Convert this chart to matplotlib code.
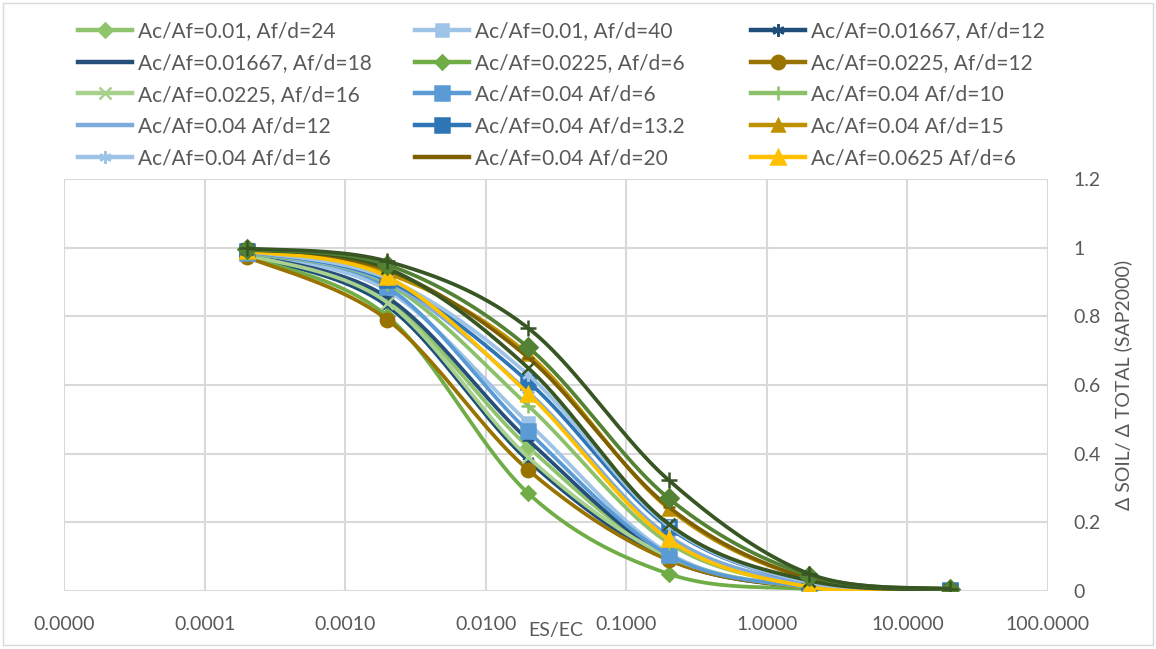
import numpy as np
import matplotlib
matplotlib.use("Agg")
import matplotlib.pyplot as plt
from matplotlib.patches import Rectangle

plt.rcParams['font.family'] = ['Lato', 'DejaVu Sans']

# ES/EC values of the six analysis points
es_ec = [0.0002, 0.002, 0.02, 0.2, 2, 20]

# delta soil / delta total for every case
s_001_24 = [0.980, 0.845, 0.420, 0.100, 0.011, 0.001]
s_001_40 = [0.982, 0.875, 0.490, 0.110, 0.012, 0.001]
s_0167_12 = [0.978, 0.830, 0.380, 0.092, 0.010, 0.001]
s_0167_18 = [0.980, 0.855, 0.440, 0.100, 0.011, 0.001]
s_0225_6 = [0.975, 0.800, 0.285, 0.050, 0.006, 0.001]
s_0225_12 = [0.973, 0.790, 0.353, 0.090, 0.010, 0.001]
s_0225_16 = [0.980, 0.840, 0.390, 0.100, 0.011, 0.001]
s_04_6 = [0.985, 0.885, 0.465, 0.105, 0.012, 0.001]
s_04_10 = [0.985, 0.895, 0.540, 0.140, 0.016, 0.002]
s_04_12 = [0.988, 0.900, 0.580, 0.160, 0.020, 0.002]
s_04_132 = [0.990, 0.905, 0.610, 0.185, 0.025, 0.002]
s_04_15 = [0.992, 0.925, 0.690, 0.240, 0.035, 0.003]
s_04_16 = [0.990, 0.910, 0.630, 0.190, 0.025, 0.002]
s_04_20 = [0.993, 0.935, 0.680, 0.245, 0.036, 0.003]
s_0625_6 = [0.990, 0.915, 0.575, 0.150, 0.012, 0.002]
# series present in the chart but cut from the legend
s_extra_a = [0.995, 0.940, 0.650, 0.195, 0.030, 0.003]
s_extra_b = [0.996, 0.950, 0.710, 0.270, 0.045, 0.005]
s_extra_c = [0.998, 0.960, 0.766, 0.323, 0.050, 0.006]

labels = ["Ac/Af=0.01, Af/d=24", "Ac/Af=0.01, Af/d=40", "Ac/Af=0.01667, Af/d=12",
          "Ac/Af=0.01667, Af/d=18", "Ac/Af=0.0225, Af/d=6", "Ac/Af=0.0225, Af/d=12",
          "Ac/Af=0.0225, Af/d=16", "Ac/Af=0.04 Af/d=6", "Ac/Af=0.04 Af/d=10",
          "Ac/Af=0.04 Af/d=12", "Ac/Af=0.04 Af/d=13.2", "Ac/Af=0.04 Af/d=15",
          "Ac/Af=0.04 Af/d=16", "Ac/Af=0.04 Af/d=20", "Ac/Af=0.0625 Af/d=6",
          None, None, None]
series = [s_001_24, s_001_40, s_0167_12, s_0167_18, s_0225_6, s_0225_12, s_0225_16,
          s_04_6, s_04_10, s_04_12, s_04_132, s_04_15, s_04_16, s_04_20, s_0625_6,
          s_extra_a, s_extra_b, s_extra_c]
colors = ["#8FC46C", "#9DC3E6", "#1F4E79", "#264E7A", "#70AD47", "#997300", "#A9D18E",
          "#5B9BD5", "#8BC16A", "#7FAADC", "#2E75B6", "#BF9000", "#9DC3E6", "#7F6000",
          "#FFC000", "#375623", "#548235", "#375623"]
markers = ["D", "s", (6, 2, 0), "_", "D", "o", "x", "s", "+", "_", "s", "^", (6, 2, 0),
           "_", "^", "x", "D", "+"]
msizes = [9, 10, 11, 10, 9, 12, 10, 13, 12, 10, 13, 11, 11, 10, 12, 11, 11, 15]

XMIN, XMAX, YMIN, YMAX = 1e-5, 100, 0, 1.2


def smooth(xs, ys, n=40):
    # Bezier smoothing like a spreadsheet "smoothed line", done in axes units
    u = (np.log10(xs) - np.log10(XMIN)) / (np.log10(XMAX) - np.log10(XMIN))
    v = (np.array(ys) - YMIN) / (YMAX - YMIN)
    p = np.column_stack([u, v])
    out = []
    for i in range(len(p) - 1):
        p0 = p[max(i - 1, 0)]
        p1 = p[i]
        p2 = p[i + 1]
        p3 = p[min(i + 2, len(p) - 1)]
        c1 = p1 + (p2 - p0) / 6
        c2 = p2 - (p3 - p1) / 6
        t = np.linspace(0, 1, n)[:, None]
        seg = (1 - t) ** 3 * p1 + 3 * (1 - t) ** 2 * t * c1 + 3 * (1 - t) * t ** 2 * c2 + t ** 3 * p2
        out.append(seg if i == 0 else seg[1:])
    out = np.vstack(out)
    xx = 10 ** (out[:, 0] * (np.log10(XMAX) - np.log10(XMIN)) + np.log10(XMIN))
    yy = out[:, 1] * (YMAX - YMIN) + YMIN
    return xx, yy


fig = plt.figure(figsize=(11.56, 6.49), dpi=100)
ax = fig.add_axes([0.0554, 0.0894, 0.9066 - 0.0554, 0.7242 - 0.0894])
fig.patches.append(Rectangle((0.003, 0.006), 0.994, 0.99, transform=fig.transFigure,
                             fill=False, ec="#D9D9D9", lw=1))

handles = []
for i, (ys, c, m, ms) in enumerate(zip(series, colors, markers, msizes)):
    xx, yy = smooth(es_ec, ys)
    ax.plot(xx, yy, color=c, lw=2.7, solid_capstyle="round", zorder=3 + i * 0.01)
    ax.plot(es_ec, ys, ls="none", marker=m, ms=ms * 0.8, color=c, mec=c, mew=1.8,
            zorder=3 + i * 0.01)
    if labels[i]:
        h, = ax.plot([], [], color=c, lw=3.2, marker=m, ms=ms * 0.8, mec=c, mew=1.8)
        handles.append((h, labels[i]))

ax.set_xscale("log")
ax.set_xlim(XMIN, XMAX)
ax.set_ylim(YMIN, YMAX)
ax.set_xticks([1e-5, 1e-4, 1e-3, 1e-2, 1e-1, 1, 10, 100])
ax.set_xticklabels(["%.4f" % v for v in [1e-5, 1e-4, 1e-3, 1e-2, 1e-1, 1, 10, 100]])
ax.xaxis.set_minor_locator(matplotlib.ticker.NullLocator())
ax.set_yticks([0, 0.2, 0.4, 0.6, 0.8, 1, 1.2])
ax.set_yticklabels(["0", "0.2", "0.4", "0.6", "0.8", "1", "1.2"])
ax.yaxis.tick_right()
ax.yaxis.set_label_position("right")
ax.tick_params(length=0, labelsize=14, colors="#595959")
ax.tick_params(axis="x", pad=18)
ax.tick_params(axis="y", pad=18)
for s in ax.spines.values():
    s.set_visible(False)
ax.grid(True, color="#D9D9D9", lw=1.5)
ax.set_axisbelow(True)
ax.set_xlabel("ES/EC", fontsize=14, color="#595959", labelpad=-8)
ax.set_ylabel("Δ SOIL/ Δ TOTAL (SAP2000)", fontsize=14, color="#595959", labelpad=10)

# legend: three equal-width columns, entries run left to right
col_x = [78, 415, 751]
for col in range(3):
    part = handles[col::3]
    fig.legend([h for h, _ in part], [l for _, l in part], ncol=1, loc="upper left",
               bbox_to_anchor=(col_x[col] / 1156, 1 - 21 / 649), frameon=False,
               fontsize=15, handlelength=2.6, handletextpad=0.3, labelspacing=0.57,
               borderpad=0, borderaxespad=0, labelcolor="#595959")

fig.savefig("out.png", dpi=100)
